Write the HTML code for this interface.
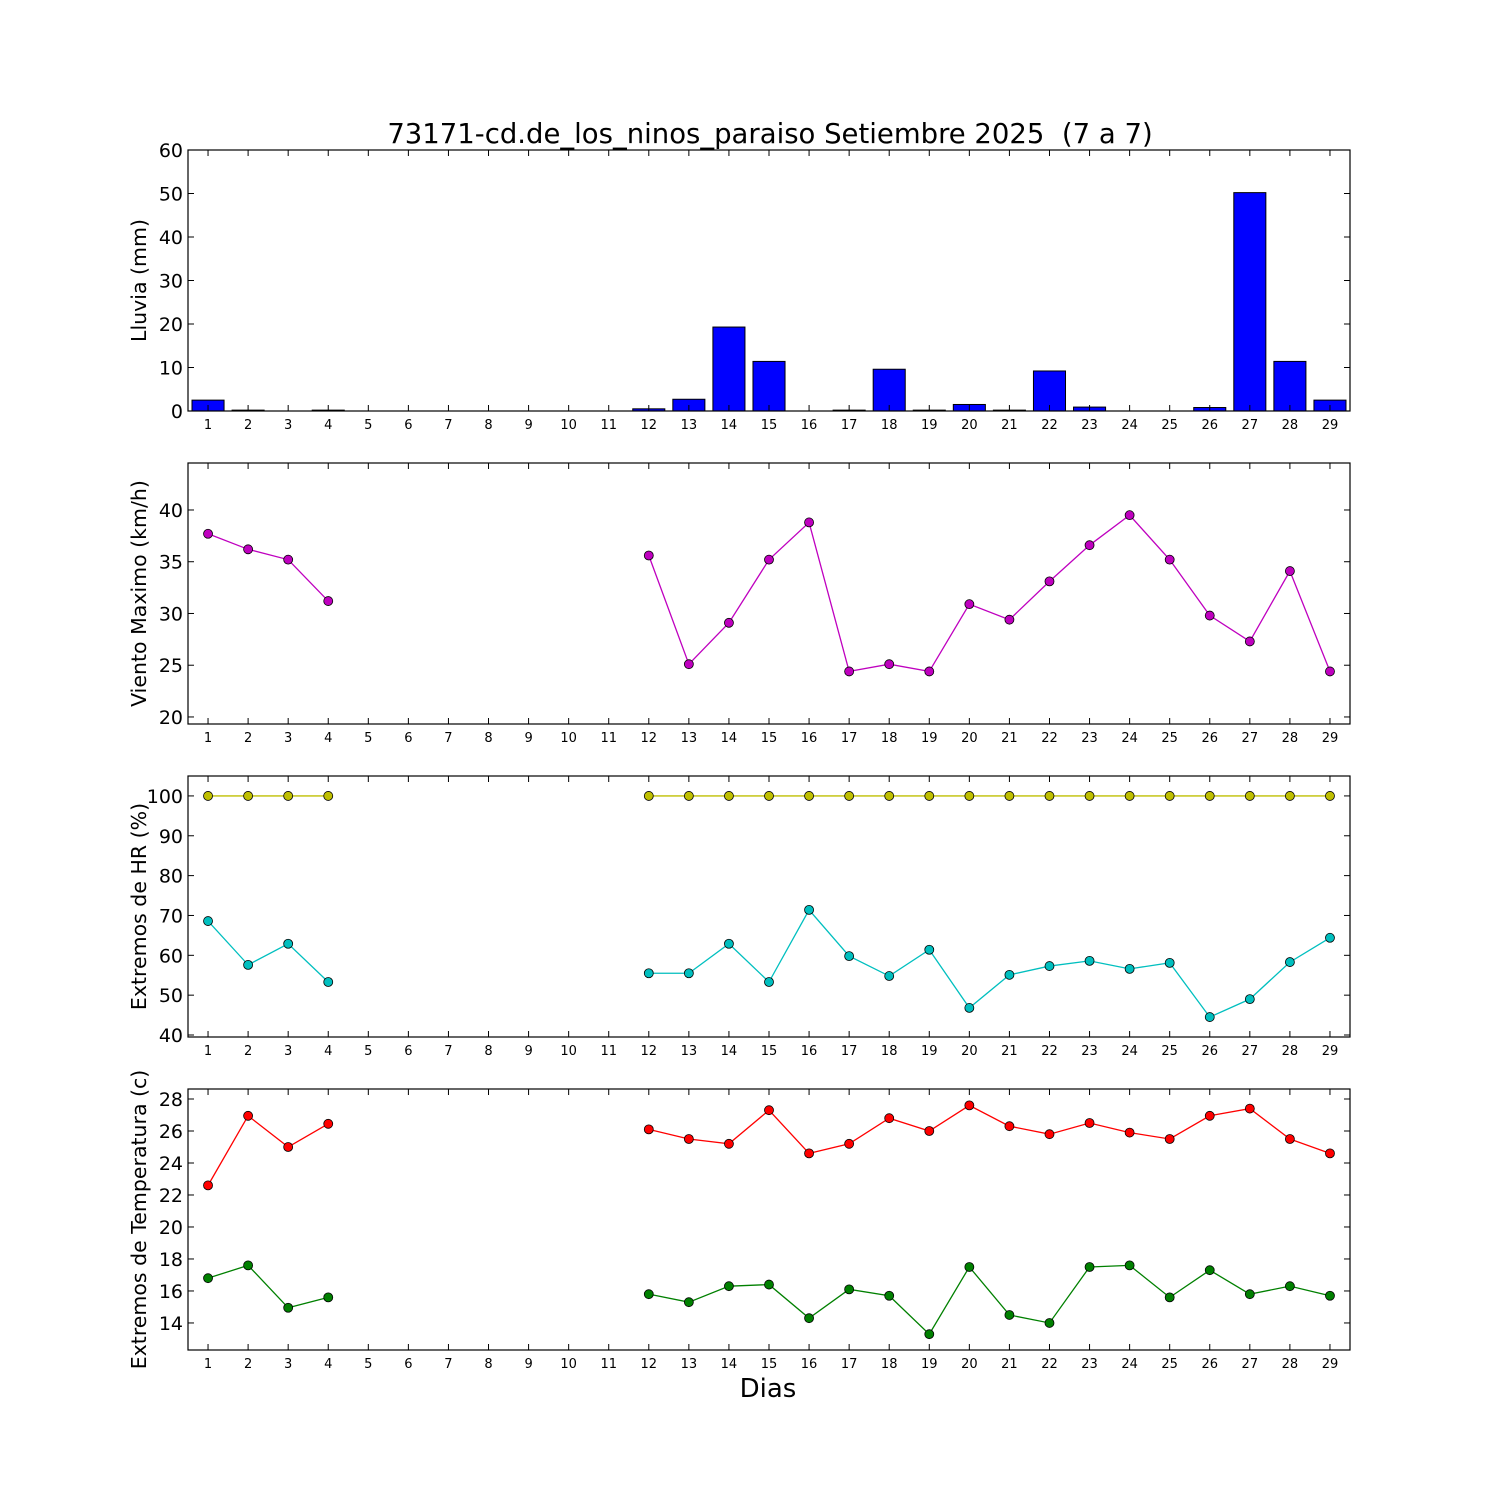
<!DOCTYPE html>
<html><head><meta charset="utf-8"><style>body{margin:0;background:#fff}svg{display:block}text{font-family:"DejaVu Sans","Liberation Sans",sans-serif}</style></head>
<body>
<svg id="fig" width="1500" height="1500" viewBox="0 0 1500 1500">
<rect width="1500" height="1500" fill="#fff"/>
<text x="770" y="143" font-size="27.5" text-anchor="middle" style="white-space:pre">73171-cd.de_los_ninos_paraiso Setiembre 2025  (7 a 7)</text>
<text x="768" y="1397" font-size="26" text-anchor="middle">Dias</text>
</svg>
<script>
const days = [1,2,3,4,5,6,7,8,9,10,11,12,13,14,15,16,17,18,19,20,21,22,23,24,25,26,27,28,29];
const rain = [2.5,0.2,0,0.2,0,0,0,0,0,0,0,0.5,2.7,19.3,11.4,0,0.2,9.6,0.2,1.5,0.2,9.2,0.9,0,0,0.8,50.2,11.4,2.5];
const wind = [37.7,36.2,35.2,31.2,null,null,null,null,null,null,null,35.6,25.1,29.1,35.2,38.8,24.4,25.1,24.4,30.9,29.4,33.1,36.6,39.5,35.2,29.8,27.3,34.1,24.4];
const hrMax = [100,100,100,100,null,null,null,null,null,null,null,100,100,100,100,100,100,100,100,100,100,100,100,100,100,100,100,100,100];
const hrMin = [68.6,57.6,62.9,53.3,null,null,null,null,null,null,null,55.5,55.5,62.9,53.3,71.4,59.8,54.8,61.4,46.8,55.1,57.3,58.6,56.6,58.1,44.5,49.0,58.3,64.4];
const tMax = [22.6,26.95,25.0,26.45,null,null,null,null,null,null,null,26.1,25.5,25.2,27.3,24.6,25.2,26.8,26.0,27.6,26.3,25.8,26.5,25.9,25.5,26.95,27.4,25.5,24.6];
const tMin = [16.8,17.6,14.95,15.6,null,null,null,null,null,null,null,15.8,15.3,16.3,16.4,14.3,16.1,15.7,13.3,17.5,14.5,14.0,17.5,17.6,15.6,17.3,15.8,16.3,15.7];
const rainTicks = [0,10,20,30,40,50,60];
const windTicks = [20,25,30,35,40];
const hrTicks = [40,50,60,70,80,90,100];
const tTicks = [14,16,18,20,22,24,26,28];

const NS='http://www.w3.org/2000/svg', svg=document.getElementById('fig');
function mk(tag,a,p){const e=document.createElementNS(NS,tag);for(const k in a)e.setAttribute(k,a[k]);(p||svg).appendChild(e);return e;}
const L=188,R=1350;
const xs=d=>L+(d-0.5)*(R-L)/29;
const panels=[
 {name:'rain',top:150,bot:411,min:0,max:60,ticks:rainTicks,label:'Lluvia (mm)'},
 {name:'wind',top:463,bot:724,min:19.32,max:44.54,ticks:windTicks,label:'Viento Maximo (km/h)'},
 {name:'humidity',top:776,bot:1037,min:39.5,max:105,ticks:hrTicks,label:'Extremos de HR (%)'},
 {name:'temperature',top:1089,bot:1350,min:12.31,max:28.625,ticks:tTicks,label:'Extremos de Temperatura (c)'}];
panels.forEach(p=>{p.ys=v=>p.bot-(v-p.min)/(p.max-p.min)*(p.bot-p.top);});
function series(p,vals,color,name){
  const g=mk('g',{});
  
  
  let seg=[];
  const flush=()=>{if(seg.length>1){const l=mk('polyline',{points:seg.join(' '),fill:'none',stroke:color,'stroke-width':1.3},g);}seg=[];};
  vals.forEach((v,i)=>{if(v==null){flush();return;}seg.push(xs(days[i])+','+p.ys(v));});flush();
  vals.forEach((v,i)=>{if(v==null)return;const c=mk('circle',{cx:xs(days[i]),cy:p.ys(v),r:4.5,fill:color,stroke:'#000','stroke-width':0.8},g);});
}
panels.forEach((p,pi)=>{
  const g=mk('g',{});
  
  
  if(pi==0){
    rain.forEach((v,i)=>{const x=xs(days[i]);const b=mk('rect',{x:x-0.4*40.07,y:p.ys(v),width:0.8*40.07,height:p.bot-p.ys(v),fill:'#0000ff',stroke:'#000','stroke-width':1},g);});
  }
  days.forEach(d=>{const x=xs(d);
    mk('line',{x1:x,x2:x,y1:p.bot,y2:p.bot-6,stroke:'#000'},g);
    mk('line',{x1:x,x2:x,y1:p.top,y2:p.top+6,stroke:'#000'},g);
    const t=mk('text',{x:x,y:p.bot+18,'font-size':13,'text-anchor':'middle'},g);t.textContent=d;
    });
  p.ticks.forEach(v=>{const y=p.ys(v);
    mk('line',{x1:L,x2:L+6,y1:y,y2:y,stroke:'#000'},g);
    mk('line',{x1:R,x2:R-6,y1:y,y2:y,stroke:'#000'},g);
    const t=mk('text',{x:L-5,y:y+7,'font-size':19,'text-anchor':'end'},g);t.textContent=v;
    });
  const yl=mk('text',{x:0,y:0,'font-size':20.5,'text-anchor':'middle',transform:`translate(146,${(p.top+p.bot)/2}) rotate(-90)`},g);
  yl.textContent=p.label;
  if(pi==1)series(p,wind,'#bf00bf','wind');
  if(pi==2){series(p,hrMax,'#bfbf00','humidity-max');series(p,hrMin,'#00bfbf','humidity-min');}
  if(pi==3){series(p,tMax,'#ff0000','temp-max');series(p,tMin,'#008000','temp-min');}
  const f=mk('rect',{x:L,y:p.top,width:R-L,height:p.bot-p.top,fill:'none',stroke:'#000','stroke-width':1.2},g);
  
});
</script>
</body></html>
